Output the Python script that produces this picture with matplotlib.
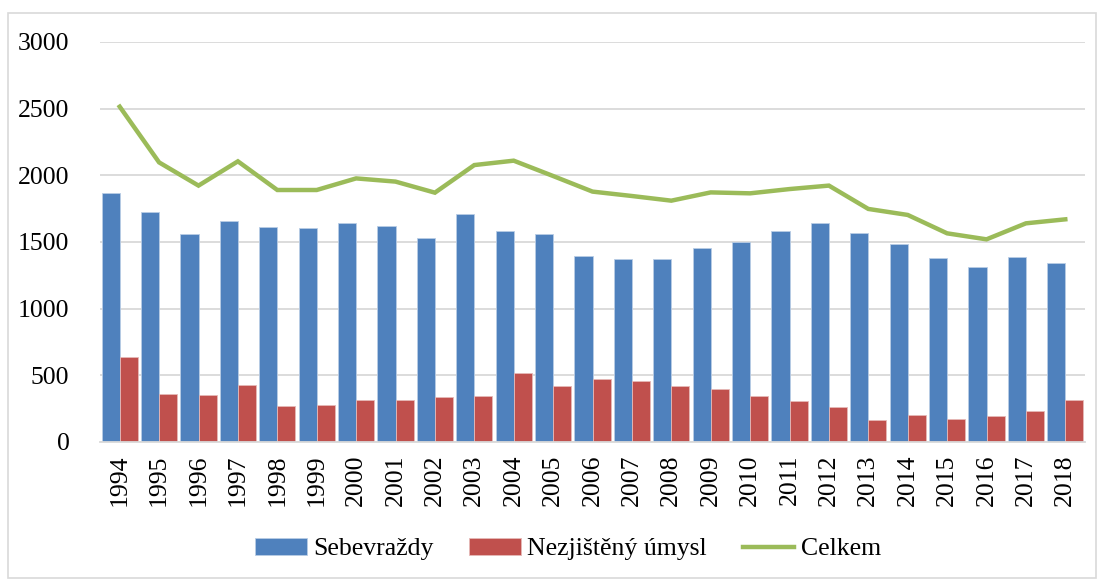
import matplotlib
matplotlib.use("Agg")
import matplotlib.pyplot as plt
import numpy as np
from matplotlib.patches import Rectangle

years = [str(y) for y in range(1994, 2019)]
sebevrazdy = [1865, 1728, 1563, 1660, 1610, 1605, 1645, 1617, 1530, 1713,
              1580, 1557, 1393, 1370, 1372, 1458, 1497, 1582, 1640, 1565,
              1482, 1377, 1310, 1390, 1345]
nezjisteny = [635, 357, 352, 425, 273, 275, 318, 312, 335, 345,
              515, 423, 470, 460, 423, 395, 348, 308, 263, 165,
              203, 175, 198, 230, 312]
celkem = [2515, 2097, 1923, 2105, 1890, 1890, 1977, 1953, 1870, 2077,
          2110, 1995, 1878, 1845, 1810, 1872, 1865, 1897, 1923, 1748,
          1703, 1565, 1520, 1640, 1670]

plt.rcParams['font.family'] = ['Liberation Serif', 'DejaVu Serif']

fig = plt.figure(figsize=(11.02, 5.82), dpi=100)
ax = fig.add_axes([100 / 1102, 1 - 442 / 582, 985 / 1102, 400 / 582])

x = np.arange(len(years))
w = 0.457
b1 = ax.bar(x - w / 2, sebevrazdy, width=w, color='#4F81BD', edgecolor='#B9CDE5',
            linewidth=0.6, label='Sebevraždy', zorder=2)
b2 = ax.bar(x + w / 2, nezjisteny, width=w, color='#C0504D', edgecolor='#E6B9B8',
            linewidth=0.6, label='Nezjištěný úmysl', zorder=2)
l1, = ax.plot(x, celkem, color='#9BBB59', linewidth=3.2, label='Celkem', zorder=3,
              solid_joinstyle='miter')

ax.set_xlim(-0.5, len(years) - 0.5)
ax.set_ylim(0, 3000)
ax.set_yticks(range(0, 3001, 500))
ax.yaxis.grid(True, color='#D9D9D9', linewidth=1.3, zorder=0)
ax.set_axisbelow(True)
for s in ['top', 'right', 'left']:
    ax.spines[s].set_visible(False)
ax.spines['bottom'].set_color('#D9D9D9')
ax.spines['bottom'].set_linewidth(1.3)
ax.set_xticks(x)
ax.set_xticklabels(years, rotation=90)
ax.tick_params(axis='both', length=0, labelsize=18.5, colors='black')
ax.tick_params(axis='y', pad=22)
ax.tick_params(axis='x', pad=9)

fig.legend(handles=[b1, b2, l1], loc='center',
           bbox_to_anchor=(568 / 1102, 1 - 549 / 582),
           ncol=3, frameon=False, fontsize=18.5, handlelength=2.0,
           handletextpad=0.25, columnspacing=1.4)

fig.patches.append(Rectangle((8 / 1102, 4 / 582), 1088 / 1102, 565 / 582,
                             transform=fig.transFigure, fill=False,
                             edgecolor='#D9D9D9', linewidth=1.2))

fig.savefig('out.png', dpi=100)
